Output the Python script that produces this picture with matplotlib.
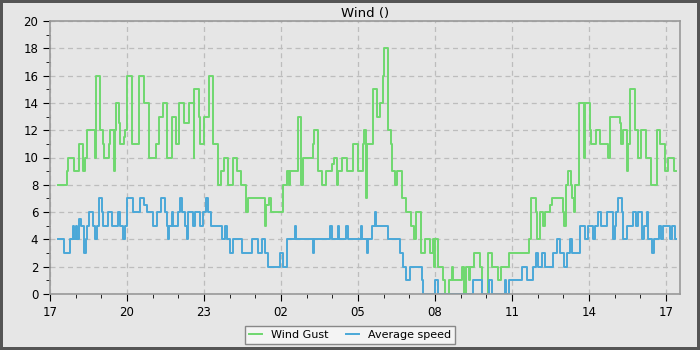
import matplotlib.pyplot as plt
from matplotlib.ticker import MultipleLocator

# hours since 17:00, value from that moment on (step, post)
gust_t = [0.32, 0.66, 0.72, 0.95, 1.14, 1.30, 1.36, 1.43, 1.75, 1.79, 1.95, 2.05, 2.10, 2.30,
          2.32, 2.48, 2.52, 2.56, 2.68, 2.73, 2.88, 2.93, 3.00, 3.20, 3.48, 3.66, 3.87, 4.13,
          4.26, 4.42, 4.57, 4.74, 4.92, 5.04, 5.22, 5.40, 5.60, 5.61, 5.80, 5.84, 6.00, 6.20,
          6.36, 6.56, 6.65, 6.77, 6.95, 7.14, 7.30, 7.45, 7.64, 7.73, 8.38, 8.42, 8.46, 8.54,
          8.63, 9.09, 9.22, 9.30, 9.34, 9.65, 9.80, 9.86, 10.26, 10.28, 10.43, 10.58, 10.75,
          11.00, 11.08, 11.18, 11.23, 11.36, 11.56, 11.82, 12.01, 12.21, 12.23, 12.32, 12.34,
          12.60, 12.75, 12.86, 12.99, 13.02, 13.18, 13.27, 13.31, 13.44, 13.51, 13.70, 13.89,
          14.05, 14.18, 14.28, 14.44, 14.61, 14.80, 14.93, 14.96, 15.00, 15.10, 15.30, 15.40,
          15.55, 15.68, 15.72, 16.05, 16.15, 16.20, 16.32, 16.38, 16.45, 16.54, 16.74, 16.83,
          17.08, 17.24, 17.47, 17.57, 17.87, 18.65, 18.75, 18.93, 18.97, 19.08, 19.23, 19.30,
          19.49, 19.55, 19.99, 20.02, 20.11, 20.17, 20.30, 20.36, 20.40, 20.47, 20.62, 20.79,
          20.83, 21.05, 21.09, 21.27, 21.44, 21.76, 21.84, 22.22, 22.26, 22.31, 22.50, 22.54,
          22.61, 22.78, 22.80, 22.93, 23.04, 23.22, 23.43, 23.65, 23.78, 23.97, 24.10, 24.30,
          24.41]
gust_v = [8, 9, 10, 9, 11, 9, 10, 12, 10, 16, 12, 11, 10, 11,
          12, 9, 12, 14, 12.5, 11, 11.5, 12, 16, 11, 16, 14, 10, 11,
          13, 14, 10, 13, 11, 14, 12.5, 14, 10, 15, 13, 11, 13, 16,
          11, 8, 9, 10, 8, 10, 9, 8, 6, 7, 5, 6.5, 6.5, 7,
          6, 8, 9, 8, 9, 13, 8, 10, 11, 12, 9, 8, 9,
          9.5, 10, 8, 9, 10, 9, 11, 9, 11, 12, 7, 11,
          15, 13, 14, 16, 18, 12, 11, 9, 8, 9, 7, 6,
          5, 4, 6, 3, 4, 3, 4, 2, 4, 2, 1, 0,
          1, 2, 1, 2, 0, 2, 1, 2, 2, 3, 2, 0,
          3, 2, 1, 2, 3, 4, 7, 6, 4, 6, 5, 6,
          6.5, 7, 6, 5, 8, 9, 8, 7, 6, 8, 14, 10,
          14, 12, 11, 12, 11, 10, 13, 12.5, 11, 12, 9, 11,
          15, 14, 12, 10, 12, 10, 8, 12, 11, 9, 10, 9,
          9]

speed_t = [0.32, 0.56, 0.78, 0.88, 0.94, 1.00, 1.07, 1.13, 1.20, 1.34, 1.40, 1.45, 1.52,
           1.69, 1.75, 1.82, 1.92, 2.01, 2.08, 2.27, 2.40, 2.66, 2.73, 2.86, 2.92, 3.01,
           3.22, 3.51, 3.66, 3.77, 4.03, 4.16, 4.31, 4.48, 4.55, 4.60, 4.64, 4.74, 4.81,
           5.00, 5.06, 5.16, 5.26, 5.32, 5.39, 5.58, 5.64, 5.84, 5.97, 6.06, 6.17, 6.26,
           6.69, 6.82, 6.91, 7.02, 7.14, 7.47, 7.86, 8.12, 8.25, 8.38, 8.51, 8.96, 9.09,
           9.22, 9.53, 9.57, 10.23, 10.27, 10.93, 10.97, 11.21, 11.25, 11.54, 11.60, 12.10,
           12.16, 12.36, 12.40, 12.53, 12.66, 12.70, 13.18, 13.64, 13.77, 13.89, 14.02,
           14.48, 14.55, 14.99, 15.10, 16.47, 16.82, 17.11, 17.24, 17.72, 17.78, 17.90,
           18.41, 18.60, 18.83, 18.93, 19.02, 19.19, 19.28, 19.60, 19.76, 19.86, 20.03,
           20.13, 20.26, 20.36, 20.65, 20.84, 20.97, 21.17, 21.23, 21.36, 21.49, 21.71,
           21.95, 22.01, 22.07, 22.14, 22.27, 22.33, 22.49, 22.70, 22.85, 22.92, 23.07,
           23.13, 23.26, 23.32, 23.44, 23.53, 23.73, 23.82, 23.89, 24.15, 24.22, 24.37,
           24.41]
speed_v = [4, 3, 4, 5, 4, 5, 4, 5.5, 5, 3, 4, 5, 6,
           5, 4, 5, 7, 6, 5, 6, 5, 6, 5, 4, 5, 7,
           6, 7, 6.5, 6, 5, 6, 7, 6, 5, 4, 5, 6, 5,
           6, 7, 6, 5, 4, 6, 5, 6, 5, 6, 7, 6, 5,
           4, 5, 4, 3, 4, 3, 4, 3, 4, 3, 2, 3, 2,
           4, 5, 4, 3, 4, 5, 4, 5, 4, 5, 4, 5,
           4, 3, 4, 5, 6, 5, 4, 3, 2, 1, 2,
           1, 0, 1, 0, 1, 0, 1, 0, 1, 0, 1,
           2, 1, 2, 3, 2, 3, 2, 3, 4, 3, 2,
           3, 4, 3, 5, 4, 5, 4, 5, 6, 5, 6,
           4, 5, 6, 7, 6, 4, 5, 6, 5, 6, 4,
           5, 6, 4, 3, 4, 5, 4, 5, 4, 5, 4,
           4]

tick_hours = [0, 3, 6, 9, 12, 15, 18, 21, 24]
tick_labels = ["17", "20", "23", "02", "05", "08", "11", "14", "17"]

bg = "#e6e6e6"
fig = plt.figure(figsize=(7, 3.5), dpi=100, facecolor=bg, edgecolor="#555555", linewidth=3)
ax = fig.add_axes([0.0714, 0.16, 0.8997, 0.78])
ax.set_facecolor(bg)

ax.step(gust_t, gust_v, where="post", color="#6fd86f", lw=1.4, label="Wind Gust")
ax.step(speed_t, speed_v, where="post", color="#4aa8d8", lw=1.4, label="Average speed")

ax.set_xlim(0, 24.54)
ax.set_ylim(0, 20)
ax.set_xticks(tick_hours)
ax.set_xticklabels(tick_labels)
ax.xaxis.set_minor_locator(MultipleLocator(1))
ax.yaxis.set_major_locator(MultipleLocator(2))
ax.yaxis.set_minor_locator(MultipleLocator(1))
ax.tick_params(which="both", direction="out", labelsize=8.5, color="black")
ax.tick_params(which="major", length=5)
ax.tick_params(which="minor", length=3)
ax.tick_params(axis="x", which="both", top=False)

for s in ax.spines.values():
    s.set_color("#999999")
    s.set_linewidth(1.2)

ax.grid(True, which="major", ls=(0, (4, 3)), color="#bdbdbd", lw=0.9)
ax.set_axisbelow(True)
ax.set_title("Wind ()", fontsize=9.5, pad=3)

fig.legend(loc="lower center", bbox_to_anchor=(0.5, 0.0), ncol=2, fontsize=8,
           frameon=True, fancybox=False, edgecolor="#888888", facecolor="#f4f4f4",
           framealpha=1, handlelength=1.2, borderpad=0.4, columnspacing=1.5)

fig.savefig("out.png", dpi=100, facecolor=bg, edgecolor="#555555")
